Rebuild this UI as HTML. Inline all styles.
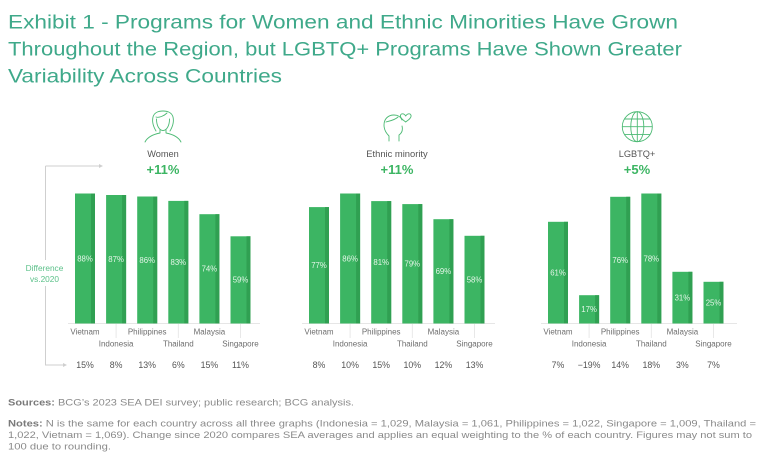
<!DOCTYPE html>
<html>
<head>
<meta charset="utf-8">
<style>
  html, body { margin:0; padding:0; background:#ffffff; }
  body { width:768px; height:474px; overflow:hidden; }
  svg { display:block; }
  text { font-family: "Liberation Sans", sans-serif; }
</style>
</head>
<body>
<svg width="768" height="474" viewBox="0 0 768 474" xmlns="http://www.w3.org/2000/svg">
  <!-- Title -->
  <g fill="#3fa98a" font-size="19.5">
    <text x="8" y="28.5" textLength="670" lengthAdjust="spacingAndGlyphs">Exhibit 1 - Programs for Women and Ethnic Minorities Have Grown</text>
    <text x="8" y="55.5" textLength="674" lengthAdjust="spacingAndGlyphs">Throughout the Region, but LGBTQ+ Programs Have Shown Greater</text>
    <text x="8" y="82.5" textLength="274" lengthAdjust="spacingAndGlyphs">Variability Across Countries</text>
  </g>

  <!-- Difference bracket -->
  <g stroke="#cfcfcf" stroke-width="1" fill="none">
    <path d="M45.5,166 L45.5,365 L66,365"/>
    <path d="M45.5,166 L102,166"/>
  </g>
  <path d="M99,164 L103,166 L99,168 Z" fill="#cfcfcf"/>
  <path d="M63,363 L67,365 L63,367 Z" fill="#cfcfcf"/>
  <rect x="24" y="260" width="42" height="26" fill="#ffffff"/>
  <g fill="#5cc18a" font-size="8.3" text-anchor="middle">
    <text x="44.5" y="271">Difference</text>
    <text x="44.5" y="282">vs.2020</text>
  </g>

  <!-- Icons -->
  <!-- Women icon -->
  <g stroke="#4cba74" stroke-width="0.9" fill="none" stroke-linecap="round" stroke-linejoin="round">
    <path d="M156,131 C153,126 152,121 153,117 C154,113 158,111 163,111 C168,111 172,113 173,117 C174,121 173,126 170,131"/>
    <path d="M156,117 C159,118 164,116 167,113"/>
    <path d="M156.5,119 C156.5,126 159.5,130.5 163,130.5 C166.5,130.5 169.5,126 169.5,119"/>
    <path d="M160,130 L160,133 C155,134 148,136 145,142"/>
    <path d="M166,130 L166,133 C171,134 178,136 181,142"/>
  </g>
  <!-- Ethnic minority icon -->
  <g stroke="#4cba74" stroke-width="0.9" fill="none" stroke-linecap="round" stroke-linejoin="round">
    <path d="M389,141 L389,136 C386,133 384,129 384,125 C384,119 388,115 394,115 C398,115 401,117 402,120"/>
    <path d="M386,122 C390,121 395,120 398,117"/>
    <path d="M402,126 C403,130 402,133 399,135 L399,141"/>
    <path d="M405.7,116 C404,113 400,113 400.5,116.5 C401,119 404,120.5 405.7,122 C407.5,120.5 410.5,119 411,116.5 C411.5,113 407.5,113 405.7,116 Z"/>
  </g>
  <!-- Globe icon -->
  <g stroke="#4cba74" stroke-width="0.9" fill="none">
    <circle cx="637.3" cy="126.7" r="15"/>
    <ellipse cx="637.3" cy="126.7" rx="6.5" ry="15"/>
    <line x1="637.3" y1="111.7" x2="637.3" y2="141.7"/>
    <line x1="622.3" y1="126.7" x2="652.3" y2="126.7"/>
    <line x1="624.5" y1="119" x2="650" y2="119"/>
    <line x1="624.5" y1="134.4" x2="650" y2="134.4"/>
  </g>

  <!-- Headers -->
  <g text-anchor="middle">
    <text x="163" y="157" font-size="9.2" fill="#555">Women</text>
    <text x="163" y="174" font-size="13" font-weight="bold" fill="#3cb563">+11%</text>
    <text x="397" y="157" font-size="9.4" fill="#555">Ethnic minority</text>
    <text x="397" y="174" font-size="13" font-weight="bold" fill="#3cb563">+11%</text>
    <text x="637" y="157" font-size="9.2" fill="#555">LGBTQ+</text>
    <text x="637" y="174" font-size="13" font-weight="bold" fill="#3cb563">+5%</text>
  </g>

  <!-- Axis baselines -->
  <g stroke="#e6e6e6" stroke-width="1">
    <line x1="68" y1="323.5" x2="260" y2="323.5"/>
    <line x1="302" y1="323.5" x2="495" y2="323.5"/>
    <line x1="541" y1="323.5" x2="737" y2="323.5"/>
  </g>
  <!-- Leader lines for lower labels -->
  <g stroke="#e3e3e3" stroke-width="0.8">
    <line x1="116.1" y1="324" x2="116.1" y2="338"/>
    <line x1="178.3" y1="324" x2="178.3" y2="338"/>
    <line x1="240.5" y1="324" x2="240.5" y2="338"/>
    <line x1="350.1" y1="324" x2="350.1" y2="338"/>
    <line x1="412.3" y1="324" x2="412.3" y2="338"/>
    <line x1="474.5" y1="324" x2="474.5" y2="338"/>
    <line x1="589.1" y1="324" x2="589.1" y2="338"/>
    <line x1="651.3" y1="324" x2="651.3" y2="338"/>
    <line x1="713.5" y1="324" x2="713.5" y2="338"/>
  </g>

  <!-- Bars: Women -->
  <g>
    <rect x="75" y="193.5" width="20" height="130" fill="#3cb563"/><rect x="91" y="193.5" width="4" height="130" fill="#30a052"/>
    <rect x="106.1" y="195" width="20" height="128.5" fill="#3cb563"/><rect x="122.1" y="195" width="4" height="128.5" fill="#30a052"/>
    <rect x="137.2" y="196.5" width="20" height="127" fill="#3cb563"/><rect x="153.2" y="196.5" width="4" height="127" fill="#30a052"/>
    <rect x="168.3" y="200.9" width="20" height="122.6" fill="#3cb563"/><rect x="184.3" y="200.9" width="4" height="122.6" fill="#30a052"/>
    <rect x="199.4" y="214.2" width="20" height="109.3" fill="#3cb563"/><rect x="215.4" y="214.2" width="4" height="109.3" fill="#30a052"/>
    <rect x="230.5" y="236.3" width="20" height="87.2" fill="#3cb563"/><rect x="246.5" y="236.3" width="4" height="87.2" fill="#30a052"/>
  </g>
  <!-- Bars: Ethnic -->
  <g>
    <rect x="309" y="207.1" width="20" height="116.4" fill="#3cb563"/><rect x="325" y="207.1" width="4" height="116.4" fill="#30a052"/>
    <rect x="340.1" y="193.5" width="20" height="130" fill="#3cb563"/><rect x="356.1" y="193.5" width="4" height="130" fill="#30a052"/>
    <rect x="371.2" y="201.1" width="20" height="122.4" fill="#3cb563"/><rect x="387.2" y="201.1" width="4" height="122.4" fill="#30a052"/>
    <rect x="402.3" y="204.1" width="20" height="119.4" fill="#3cb563"/><rect x="418.3" y="204.1" width="4" height="119.4" fill="#30a052"/>
    <rect x="433.4" y="219.2" width="20" height="104.3" fill="#3cb563"/><rect x="449.4" y="219.2" width="4" height="104.3" fill="#30a052"/>
    <rect x="464.5" y="235.8" width="20" height="87.7" fill="#3cb563"/><rect x="480.5" y="235.8" width="4" height="87.7" fill="#30a052"/>
  </g>
  <!-- Bars: LGBTQ -->
  <g>
    <rect x="548" y="221.8" width="20" height="101.7" fill="#3cb563"/><rect x="564" y="221.8" width="4" height="101.7" fill="#30a052"/>
    <rect x="579.1" y="295.2" width="20" height="28.3" fill="#3cb563"/><rect x="595.1" y="295.2" width="4" height="28.3" fill="#30a052"/>
    <rect x="610.2" y="196.8" width="20" height="126.7" fill="#3cb563"/><rect x="626.2" y="196.8" width="4" height="126.7" fill="#30a052"/>
    <rect x="641.3" y="193.5" width="20" height="130" fill="#3cb563"/><rect x="657.3" y="193.5" width="4" height="130" fill="#30a052"/>
    <rect x="672.4" y="271.8" width="20" height="51.7" fill="#3cb563"/><rect x="688.4" y="271.8" width="4" height="51.7" fill="#30a052"/>
    <rect x="703.5" y="281.8" width="20" height="41.7" fill="#3cb563"/><rect x="719.5" y="281.8" width="4" height="41.7" fill="#30a052"/>
  </g>

  <!-- In-bar value labels -->
  <g fill="#e3f5e7" font-size="7.8" text-anchor="middle">
    <text x="85" y="261.5">88%</text>
    <text x="116.1" y="262">87%</text>
    <text x="147.2" y="263">86%</text>
    <text x="178.3" y="265">83%</text>
    <text x="209.4" y="271.5">74%</text>
    <text x="240.5" y="282.5">59%</text>

    <text x="319" y="268">77%</text>
    <text x="350.1" y="261.5">86%</text>
    <text x="381.2" y="265">81%</text>
    <text x="412.3" y="266.5">79%</text>
    <text x="443.4" y="274">69%</text>
    <text x="474.5" y="282.5">58%</text>

    <text x="558" y="275.5">61%</text>
    <text x="589.1" y="312">17%</text>
    <text x="620.2" y="263">76%</text>
    <text x="651.3" y="261.5">78%</text>
    <text x="682.4" y="300.5">31%</text>
    <text x="713.5" y="305.5">25%</text>
  </g>

  <!-- Country labels -->
  <g fill="#6e6e6e" font-size="8" text-anchor="middle">
    <text x="85" y="334.5">Vietnam</text>
    <text x="116.1" y="346.5">Indonesia</text>
    <text x="147.2" y="334.5">Philippines</text>
    <text x="178.3" y="346.5">Thailand</text>
    <text x="209.4" y="334.5">Malaysia</text>
    <text x="240.5" y="346.5">Singapore</text>

    <text x="319" y="334.5">Vietnam</text>
    <text x="350.1" y="346.5">Indonesia</text>
    <text x="381.2" y="334.5">Philippines</text>
    <text x="412.3" y="346.5">Thailand</text>
    <text x="443.4" y="334.5">Malaysia</text>
    <text x="474.5" y="346.5">Singapore</text>

    <text x="558" y="334.5">Vietnam</text>
    <text x="589.1" y="346.5">Indonesia</text>
    <text x="620.2" y="334.5">Philippines</text>
    <text x="651.3" y="346.5">Thailand</text>
    <text x="682.4" y="334.5">Malaysia</text>
    <text x="713.5" y="346.5">Singapore</text>
  </g>

  <!-- Difference values -->
  <g fill="#555" font-size="8.8" text-anchor="middle">
    <text x="85" y="368">15%</text>
    <text x="116.1" y="368">8%</text>
    <text x="147.2" y="368">13%</text>
    <text x="178.3" y="368">6%</text>
    <text x="209.4" y="368">15%</text>
    <text x="240.5" y="368">11%</text>

    <text x="319" y="368">8%</text>
    <text x="350.1" y="368">10%</text>
    <text x="381.2" y="368">15%</text>
    <text x="412.3" y="368">10%</text>
    <text x="443.4" y="368">12%</text>
    <text x="474.5" y="368">13%</text>

    <text x="558" y="368">7%</text>
    <text x="589.1" y="368">−19%</text>
    <text x="620.2" y="368">14%</text>
    <text x="651.3" y="368">18%</text>
    <text x="682.4" y="368">3%</text>
    <text x="713.5" y="368">7%</text>
  </g>

  <!-- Footer -->
  <g fill="#8a8a8a" font-size="9.4">
    <text x="8" y="405.5" textLength="346" lengthAdjust="spacingAndGlyphs"><tspan font-weight="bold" fill="#7a7a7a">Sources:</tspan> BCG’s 2023 SEA DEI survey; public research; BCG analysis.</text>
    <text x="8" y="426.5" textLength="748" lengthAdjust="spacingAndGlyphs"><tspan font-weight="bold" fill="#7a7a7a">Notes:</tspan> N is the same for each country across all three graphs (Indonesia = 1,029, Malaysia = 1,061, Philippines = 1,022, Singapore = 1,009, Thailand =</text>
    <text x="8" y="438" textLength="744" lengthAdjust="spacingAndGlyphs">1,022, Vietnam = 1,069). Change since 2020 compares SEA averages and applies an equal weighting to the % of each country. Figures may not sum to</text>
    <text x="8" y="449.5" textLength="103" lengthAdjust="spacingAndGlyphs">100 due to rounding.</text>
  </g>
</svg>
</body>
</html>
